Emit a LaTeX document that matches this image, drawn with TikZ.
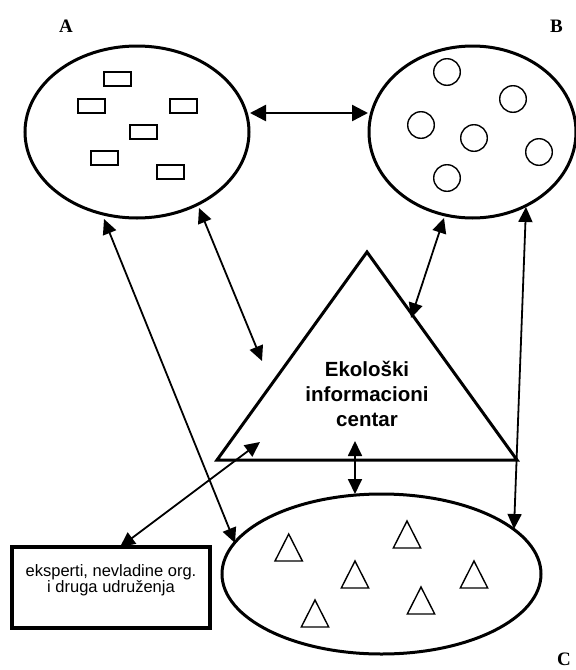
\documentclass[tikz,border=0pt]{standalone}
\usepackage{fontspec}
\setmainfont{Liberation Serif}
\newfontfamily\arialfont{Liberation Sans}
\usetikzlibrary{shapes.geometric,arrows.meta}
\begin{document}
\begin{tikzpicture}[x=1pt,y=-1pt,
  bigell/.style={draw,ellipse,line width=3pt,inner sep=0pt},
  conn/.style={{Triangle[length=15pt,width=14pt]}-{Triangle[length=15pt,width=14pt]},line width=1.8pt},
  bigconn/.style={{Triangle[length=16pt,width=16pt]}-{Triangle[length=16pt,width=16pt]},line width=2.4pt},
  smallshape/.style={line width=1.4pt},
  cornerlabel/.style={font=\fontsize{19}{19}\selectfont\bfseries,inner sep=0pt,anchor=base west},
  frame/.style={draw,line width=3.5pt,inner sep=0pt,minimum width=198pt,minimum height=81pt},
  centertext/.style={font=\arialfont\bfseries\fontsize{20.5}{25}\selectfont,align=center,inner sep=0pt},
  boxtext/.style={font=\arialfont\fontsize{16.5}{16}\selectfont,align=center,inner sep=0pt}]
\useasboundingbox (0,0) rectangle (576,670);
\clip (0,0) rectangle (576,670);

% corner labels
\node[cornerlabel] (lA) at (59,32) {A};
\node[cornerlabel] (lB) at (550,32) {B};
\node[cornerlabel] (lC) at (557,665) {C};

% big ellipses
\node[bigell,minimum width=224pt,minimum height=172pt] (A) at (137,132) {};
\node[bigell,minimum width=207pt,minimum height=172pt] (B) at (472.5,132) {};
\node[bigell,minimum width=319pt,minimum height=160pt] (C) at (381.5,574) {};

% rectangles in A
\foreach \x/\y in {104/72,78/99,170/99,130/125,91/151,157/165}
  \draw[smallshape] (\x,\y) rectangle ++(27,14);
% circles in B
\foreach \x/\y in {447/72,513/99,421/125,474/138,539/152,447/178}
  \draw[smallshape] (\x,\y) circle[radius=13.3pt];
% triangles in C
\foreach \x/\y in {288.7/534,355/561,315/600,407/521,474/561,421/587}
  \draw[smallshape,line join=miter] (\x,\y) -- ++(13.7,27) -- ++(-27.4,0) -- cycle;

% central triangle
\coordinate (ta) at (367,252);
\coordinate (tr) at (517,460);
\coordinate (tl) at (217,460);
\draw[line width=3pt,line join=miter] (ta) -- (tr) -- (tl) -- cycle;
\node[centertext] (T) at (367,394) {Ekološki\\informacioni\\centar};

% box
\node[frame] (box) at (111,587.5) {};
\node[boxtext] (boxlabel) at (111,580) {eksperti, nevladine org.\\i druga udruženja};

% connector end points
\coordinate (pA1) at (250,113); \coordinate (pB1) at (368,113);
\coordinate (pA2) at (104,219); \coordinate (pC1) at (235,543);
\coordinate (pA3) at (199,208); \coordinate (pT1) at (262,361);
\coordinate (pB2) at (444,218); \coordinate (pT2) at (411,318);
\coordinate (pT3) at (355,441); \coordinate (pC2) at (355,494);
\coordinate (pbox) at (120,547); \coordinate (pT4) at (260,442);
\coordinate (pB3) at (526,207); \coordinate (pC3) at (514,529);

\draw[bigconn] (pA1) -- (pB1);
\draw[conn] (pA2) -- (pC1);
\draw[conn] (pA3) -- (pT1);
\draw[conn] (pB2) -- (pT2);
\draw[conn] (pT3) -- (pC2);
\draw[conn] (pbox) -- (pT4);
\draw[conn] (pB3) -- (pC3);
\end{tikzpicture}
\end{document}
